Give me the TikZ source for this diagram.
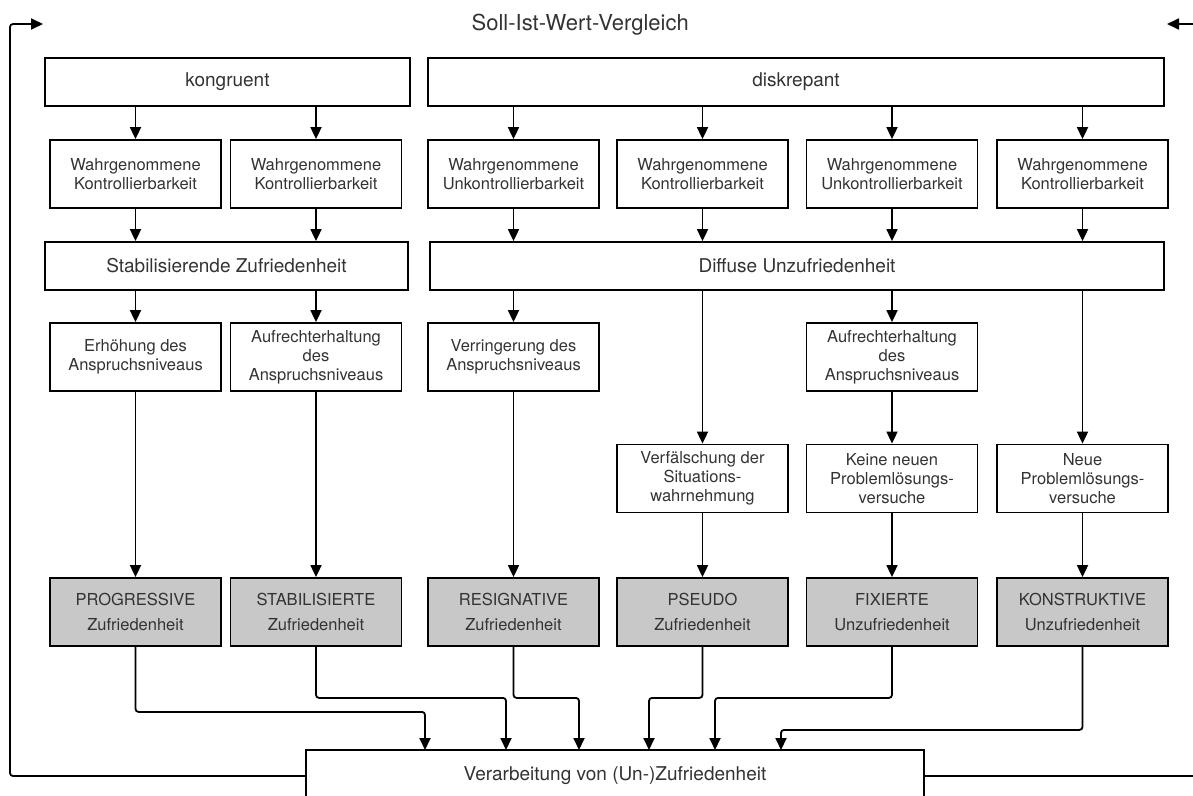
\documentclass[tikz,border=0pt]{standalone}
\usepackage{fontspec}
\setmainfont{TeX Gyre Heros}
\usetikzlibrary{arrows.meta,positioning,calc}
\definecolor{boxgray}{HTML}{C8C8C8}
\definecolor{inkgray}{HTML}{333333}
\tikzset{box/.style={draw,line width=1.8pt,align=center,inner sep=2pt,text=inkgray,
    font=\fontsize{16.5}{19}\selectfont},
  small/.style={box,minimum width=171pt,minimum height=68pt},
  wide/.style={box,minimum height=48pt,font=\fontsize{19}{22}\selectfont},
  result/.style={small,fill=boxgray,font=\fontsize{16.5}{25}\selectfont},
  flow/.style={-{Triangle[length=12pt,width=11pt]},line width=1.8pt},
  elbow/.style={flow,rounded corners=3pt}}

\begin{document}
\begin{tikzpicture}[x=1pt,y=-1pt]
\clip (0,0) rectangle (1193,795);
\node[font=\fontsize{22}{26}\selectfont,text=inkgray,anchor=east,inner sep=0pt] (soll) at (689,25)
  {Soll-Ist-Wert-Vergleich};
% first two rows
\node[wide,minimum width=365pt] (kongr) at (227.5,82) {kongruent};
\node[wide,minimum width=736pt] (diskr) at (796,82) {diskrepant};
\foreach \n/\x/\t in {1/135.5/K,2/316/K,3/513.5/Unk,4/702.5/K,5/892/Unk,6/1082.5/K} {
  \node[small] (wahr\n) at (\x,174) {Wahrgenommene\\\t ontrollierbarkeit};}
\node[wide,minimum width=363pt] (stab) at (226.5,266) {Stabilisierende Zufriedenheit};
\node[wide,minimum width=734pt] (diff) at (797,266) {Diffuse Unzufriedenheit};
% middle rows
\node[small] (ansp1) at (135.5,357) {Erhöhung des\\Anspruchsniveaus};
\node[small] (ansp2) at (316,357) {Aufrechterhaltung\\des\\Anspruchsniveaus};
\node[small] (ansp3) at (513.5,357) {Verringerung des\\Anspruchsniveaus};
\node[small] (ansp5) at (892,357) {Aufrechterhaltung\\des\\Anspruchsniveaus};
\node[small] (verf4) at (702.5,478.5) {Verfälschung der\\Situations-\\wahrnehmung};
\node[small] (kein5) at (892,478.5) {Keine neuen\\Problemlösungs-\\versuche};
\node[small] (neue6) at (1082.5,478.5) {Neue\\Problemlösungs-\\versuche};
% results
\foreach \n/\x/\a/\b in {1/135.5/PROGRESSIVE/Zufriedenheit,2/316/STABILISIERTE/Zufriedenheit,
  3/513.5/RESIGNATIVE/Zufriedenheit,4/702.5/PSEUDO/Zufriedenheit,
  5/892/FIXIERTE/Unzufriedenheit,6/1082.5/KONSTRUKTIVE/Unzufriedenheit} {
  \node[result] (res\n) at (\x,612) {\a\\\b};}
\node[wide,minimum width=618pt,minimum height=52pt,fill=white] (verarb) at (615,776)
  {Verarbeitung von (Un-)Zufriedenheit};
\foreach \n/\x in {1/425,2/506,3/579,4/649,5/715,6/781} {
  \coordinate (in\n) at (\x,750);}
\coordinate (ltop) at (10,24);
\coordinate (lend) at (43,24);
\coordinate (rtop) at (1200,24);
\coordinate (rend) at (1167,24);
% connectors
\foreach \n in {1,2} {
  \draw[flow] (wahr\n |- kongr.south) -- (wahr\n);
  \draw[flow] (wahr\n.south) -- (wahr\n.south |- stab.north);}
\foreach \n in {3,...,6} {
  \draw[flow] (wahr\n |- diskr.south) -- (wahr\n);
  \draw[flow] (wahr\n.south) -- (wahr\n.south |- diff.north);}
\foreach \n in {ansp1,ansp2} \draw[flow] (\n |- stab.south) -- (\n);
\foreach \n in {ansp3,verf4,ansp5,neue6} \draw[flow] (\n |- diff.south) -- (\n);
\foreach \a/\b in {ansp1/res1,ansp2/res2,ansp3/res3,verf4/res4,ansp5/kein5,kein5/res5,neue6/res6}
  \draw[flow] (\a) -- (\b);
\foreach \n/\d in {1/65,2/51,3/51,4/51,5/51,6/83}
  \draw[elbow] (res\n.south) -- ++(0,\d) -| (in\n);
% feedback
\draw[elbow] (verarb.west) -| (ltop) -- (lend);
\draw[line width=1.8pt] (verarb.east) -- (verarb.east -| rtop);
\draw[flow] (rtop) -- (rend);
\end{tikzpicture}
\end{document}
